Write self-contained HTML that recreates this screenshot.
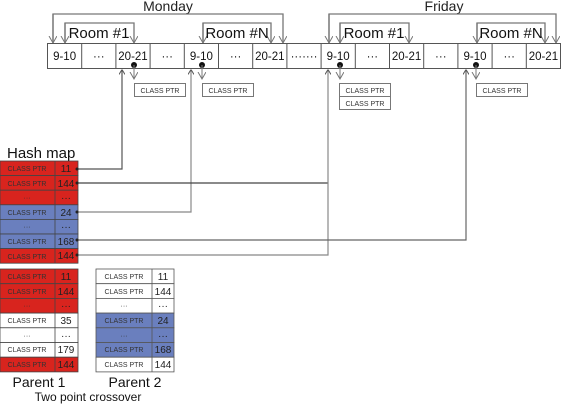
<!DOCTYPE html>
<html><head><meta charset="utf-8"><style>
html,body{margin:0;padding:0;background:#fff}
svg{display:block}
text{font-family:"Liberation Sans",sans-serif}
</style></head><body>
<svg width="564" height="404" viewBox="0 0 564 404" xmlns="http://www.w3.org/2000/svg">
<defs>
<marker id="a" markerWidth="8" markerHeight="9" refX="7" refY="4" orient="auto" markerUnits="userSpaceOnUse">
<path d="M0,0 L7,4 L0,8" fill="none" stroke="#777" stroke-width="1"/></marker>
<marker id="u" markerWidth="6" markerHeight="6" refX="3" refY="0.5" orient="0" markerUnits="userSpaceOnUse">
<path d="M0,5 L3,0 L6,5" fill="none" stroke="#555" stroke-width="1"/></marker>
</defs>
<text x="168" y="11" font-size="14" text-anchor="middle" fill="#222">Monday</text>
<text x="444" y="11" font-size="14" text-anchor="middle" fill="#222">Friday</text>
<g fill="none" stroke="#777" stroke-width="1.3">
<path d="M53,43 V14 H283 V43" marker-end="url(#a)"/><path d="M53,14 V43" marker-end="url(#a)"/>
<path d="M65,43 V23 H134 V43" marker-end="url(#a)"/><path d="M65,23 V43" marker-end="url(#a)"/>
<path d="M203,43 V23 H271 V43" marker-end="url(#a)"/><path d="M203,23 V43" marker-end="url(#a)"/>
<path d="M329,43 V14 H556 V43" marker-end="url(#a)"/><path d="M329,14 V43" marker-end="url(#a)"/>
<path d="M340,43 V23 H409 V43" marker-end="url(#a)"/><path d="M340,23 V43" marker-end="url(#a)"/>
<path d="M477,43 V23 H545 V43" marker-end="url(#a)"/><path d="M477,23 V43" marker-end="url(#a)"/>
</g>
<text x="99" y="38" font-size="15" text-anchor="middle" fill="#111">Room #1</text>
<text x="237" y="38" font-size="15" text-anchor="middle" fill="#111">Room #N</text>
<text x="374" y="38" font-size="15" text-anchor="middle" fill="#111">Room #1</text>
<text x="511" y="38" font-size="15" text-anchor="middle" fill="#111">Room #N</text>
<g stroke="#555" stroke-width="1" fill="#fff">
<rect x="47.5" y="43.5" width="513" height="25"/>
</g>
<g stroke="#555" stroke-width="1">
<line x1="81.7" y1="43" x2="81.7" y2="69"/><line x1="115.9" y1="43" x2="115.9" y2="69"/><line x1="150.1" y1="43" x2="150.1" y2="69"/><line x1="184.3" y1="43" x2="184.3" y2="69"/><line x1="218.5" y1="43" x2="218.5" y2="69"/><line x1="252.7" y1="43" x2="252.7" y2="69"/><line x1="286.9" y1="43" x2="286.9" y2="69"/><line x1="321.1" y1="43" x2="321.1" y2="69"/><line x1="355.3" y1="43" x2="355.3" y2="69"/><line x1="389.5" y1="43" x2="389.5" y2="69"/><line x1="423.7" y1="43" x2="423.7" y2="69"/><line x1="457.9" y1="43" x2="457.9" y2="69"/><line x1="492.1" y1="43" x2="492.1" y2="69"/><line x1="526.3" y1="43" x2="526.3" y2="69"/>
</g>
<g font-size="11.5" text-anchor="middle" fill="#111">
<text x="64.6" y="60">9-10</text><text x="98.8" y="60">···</text><text x="133" y="60">20-21</text><text x="167.2" y="60">···</text><text x="201.4" y="60">9-10</text><text x="235.6" y="60">···</text><text x="269.8" y="60">20-21</text><text x="304" y="60">·······</text><text x="338.2" y="60">9-10</text><text x="372.4" y="60">···</text><text x="406.6" y="60">20-21</text><text x="440.8" y="60">···</text><text x="475" y="60">9-10</text><text x="509.2" y="60">···</text><text x="543.4" y="60">20-21</text>
</g>
<g fill="#111"><circle cx="134" cy="65" r="3"/><circle cx="202" cy="65" r="3"/><circle cx="340" cy="65" r="3"/><circle cx="476" cy="65" r="3"/></g>
<g fill="none" stroke="#777" stroke-width="1">
<path d="M134,65 V79" marker-end="url(#a)"/><path d="M202,65 V79" marker-end="url(#a)"/><path d="M340,65 V79" marker-end="url(#a)"/><path d="M476,65 V79" marker-end="url(#a)"/>
</g>
<g fill="#fff" stroke="#777" stroke-width="1">
<rect x="134.5" y="83.5" width="51" height="13"/><rect x="202.5" y="83.5" width="51" height="13"/><rect x="339.5" y="83.5" width="51" height="13"/><rect x="339.5" y="96.5" width="51" height="13"/><rect x="476.5" y="83.5" width="51" height="13"/>
</g>
<g font-size="7" text-anchor="middle" fill="#333">
<text x="160" y="93">CLASS PTR</text><text x="228" y="93">CLASS PTR</text><text x="365" y="93">CLASS PTR</text><text x="365" y="106">CLASS PTR</text><text x="502" y="93">CLASS PTR</text>
</g>
<g fill="none" stroke-width="1.2">
<path d="M77,169 H122 V70" stroke="#555" marker-end="url(#u)"/>
<path d="M77,212 H191 V70" stroke="#888" marker-end="url(#u)"/>
<path d="M77,183 H328" stroke="#444"/>
<path d="M77,255 H328 V70" stroke="#888" marker-end="url(#u)"/>
<path d="M77,240 H466 V70" stroke="#666" marker-end="url(#u)"/>
</g>
<text x="7" y="158" font-size="15" fill="#111">Hash map</text>
<g stroke="#444" stroke-width="0.8">
<rect x="0" y="161" width="78" height="14.6" fill="#d8241e"/>
<rect x="0" y="175.6" width="78" height="14.6" fill="#d8241e"/>
<rect x="0" y="190.2" width="78" height="14.6" fill="#d8241e"/>
<rect x="0" y="204.8" width="78" height="14.6" fill="#6a7fbe"/>
<rect x="0" y="219.4" width="78" height="14.6" fill="#6a7fbe"/>
<rect x="0" y="234" width="78" height="14.6" fill="#6a7fbe"/>
<rect x="0" y="248.6" width="78" height="14.6" fill="#d8241e"/>
<line x1="55" y1="161" x2="55" y2="263"/>
</g>
<g font-size="7" text-anchor="middle" fill="#333">
<text x="27" y="171">CLASS PTR</text><text x="27" y="186">CLASS PTR</text><text x="27" y="200">···</text><text x="27" y="215">CLASS PTR</text><text x="27" y="229">···</text><text x="27" y="244">CLASS PTR</text><text x="27" y="259">CLASS PTR</text>
</g>
<g font-size="10" text-anchor="middle" fill="#222">
<text x="66" y="172">11</text><text x="66" y="187">144</text><text x="66" y="201">···</text><text x="66" y="216">24</text><text x="66" y="230">···</text><text x="66" y="245">168</text><text x="66" y="259">144</text>
</g>
<g fill="#222"><circle cx="77" cy="169" r="1.5"/><circle cx="77" cy="183" r="1.5"/><circle cx="77" cy="212" r="1.5"/><circle cx="77" cy="240" r="1.5"/><circle cx="77" cy="255" r="1.5"/></g>
<g stroke="#444" stroke-width="0.8">
<rect x="0" y="269" width="78" height="14.7" fill="#d8241e"/>
<rect x="0" y="283.7" width="78" height="14.7" fill="#d8241e"/>
<rect x="0" y="298.4" width="78" height="14.7" fill="#d8241e"/>
<rect x="0" y="313.1" width="78" height="14.7" fill="#fff"/>
<rect x="0" y="327.8" width="78" height="14.7" fill="#fff"/>
<rect x="0" y="342.5" width="78" height="14.7" fill="#fff"/>
<rect x="0" y="357.2" width="78" height="14.7" fill="#d8241e"/>
<line x1="55" y1="269" x2="55" y2="372"/>
</g>
<g font-size="7" text-anchor="middle" fill="#333">
<text x="27" y="279">CLASS PTR</text><text x="27" y="294">CLASS PTR</text><text x="27" y="308">···</text><text x="27" y="323">CLASS PTR</text><text x="27" y="338">···</text><text x="27" y="352">CLASS PTR</text><text x="27" y="367">CLASS PTR</text>
</g>
<g font-size="10" text-anchor="middle" fill="#222">
<text x="66" y="280">11</text><text x="66" y="295">144</text><text x="66" y="309">···</text><text x="66" y="324">35</text><text x="66" y="339">···</text><text x="66" y="353">179</text><text x="66" y="368">144</text>
</g>
<g stroke="#555" stroke-width="0.8">
<rect x="96" y="269" width="78" height="14.7" fill="#fff"/>
<rect x="96" y="283.7" width="78" height="14.7" fill="#fff"/>
<rect x="96" y="298.4" width="78" height="14.7" fill="#fff"/>
<rect x="96" y="313.1" width="78" height="14.7" fill="#6a7fbe"/>
<rect x="96" y="327.8" width="78" height="14.7" fill="#6a7fbe"/>
<rect x="96" y="342.5" width="78" height="14.7" fill="#6a7fbe"/>
<rect x="96" y="357.2" width="78" height="14.7" fill="#fff"/>
<line x1="152" y1="269" x2="152" y2="372"/>
</g>
<g font-size="7" text-anchor="middle" fill="#333">
<text x="124" y="279">CLASS PTR</text><text x="124" y="294">CLASS PTR</text><text x="124" y="308">···</text><text x="124" y="323">CLASS PTR</text><text x="124" y="338">···</text><text x="124" y="352">CLASS PTR</text><text x="124" y="367">CLASS PTR</text>
</g>
<g font-size="10" text-anchor="middle" fill="#222">
<text x="163" y="280">11</text><text x="163" y="295">144</text><text x="163" y="309">···</text><text x="163" y="324">24</text><text x="163" y="339">···</text><text x="163" y="353">168</text><text x="163" y="368">144</text>
</g>
<text x="39" y="387" font-size="14" text-anchor="middle" fill="#111">Parent 1</text>
<text x="135" y="387" font-size="14" text-anchor="middle" fill="#111">Parent 2</text>
<text x="88" y="401" font-size="12" text-anchor="middle" fill="#111">Two point crossover</text>
</svg>
</body></html>
